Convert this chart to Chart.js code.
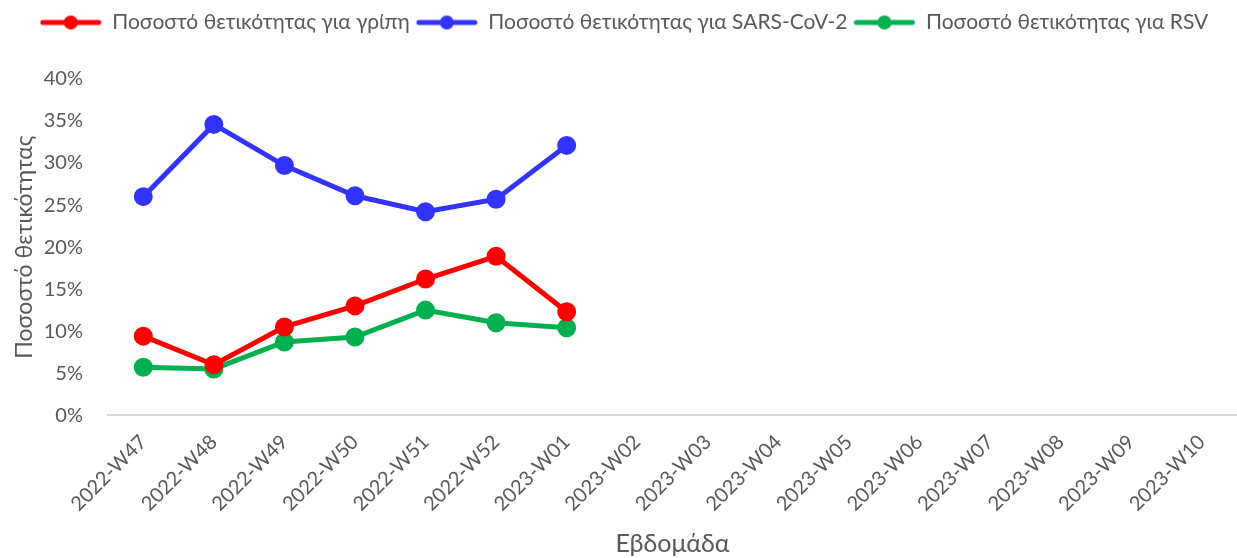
<!DOCTYPE html>
<html>
<head>
<meta charset="utf-8">
<script src="https://cdn.jsdelivr.net/npm/chart.js@4.4.0/dist/chart.umd.min.js"></script>
<style>
  html, body { margin: 0; padding: 0; background: #fff; }
  #wrap { width: 1237px; height: 558px; }
</style>
</head>
<body>
<div id="wrap"><canvas id="positivityChart"></canvas></div>
<script>
// Weeks on the x axis
const weeks = ['2022-W47', '2022-W48', '2022-W49', '2022-W50', '2022-W51', '2022-W52', '2023-W01',
    '2023-W02', '2023-W03', '2023-W04', '2023-W05', '2023-W06', '2023-W07', '2023-W08', '2023-W09', '2023-W10'];

// Positivity values (%), only first 7 weeks have data
const fluValues = [9.4, 6.0, 10.5, 13.0, 16.2, 18.9, 12.3];
const covidValues = [26.0, 34.6, 29.7, 26.1, 24.2, 25.7, 32.1];
const rsvValues = [5.7, 5.5, 8.7, 9.3, 12.5, 11.0, 10.4];

const yTicks = [0, 5, 10, 15, 20, 25, 30, 35, 40];

const fontFamily = 'Lato, "Open Sans", sans-serif';
const textColor = '#595959';

// small line+dot image for legend entries
function legendMarker(color) {
    const c = document.createElement('canvas');
    c.width = 62;
    c.height = 16;
    const g = c.getContext('2d');
    g.strokeStyle = color;
    g.lineWidth = 5;
    g.lineCap = 'round';
    g.beginPath();
    g.moveTo(3, 8);
    g.lineTo(59, 8);
    g.stroke();
    g.fillStyle = color;
    g.beginPath();
    g.arc(31, 8, 7, 0, Math.PI * 2);
    g.fill();
    return c;
}

function series(label, values, color) {
    return {
        label: label,
        data: values,
        borderColor: color,
        backgroundColor: color,
        borderWidth: 5,
        pointRadius: 7,
        pointHoverRadius: 8,
        pointBackgroundColor: color,
        pointBorderColor: color,
        tension: 0,
        fill: false,
        marker: legendMarker(color)
    };
}

// push the plot down below the legend, and keep the axes at fixed widths
// (the rotated week labels otherwise eat into the plot on both sides)
const layoutTweaks = {
    id: 'layoutTweaks',
    beforeInit(chart) {
        const fit = chart.legend.fit;
        chart.legend.fit = function() {
            fit.bind(chart.legend)();
            this.height += 36;
        };
    },
    beforeLayout(chart) {
        const x = chart.scales.x;
        const y = chart.scales.y;
        if (!x.__patched) {
            x.getPadding = function() {
                return { left: 0, right: 0, top: 0, bottom: 0 };
            };
            x.__patched = true;
        }
        if (!y.__patched) {
            const yfit = y.fit;
            y.fit = function() {
                yfit.call(this);
                this.width = 97;
            };
            y.__patched = true;
        }
    }
};

const ctx = document.getElementById('positivityChart').getContext('2d');
new Chart(ctx, {
    type: 'line',
    data: {
        labels: weeks,
        datasets: [
            series('Ποσοστό θετικότητας για γρίπη', fluValues, '#ff0000'),
            series('Ποσοστό θετικότητας για SARS-CoV-2', covidValues, '#3333ff'),
            series('Ποσοστό θετικότητας για RSV', rsvValues, '#00b050')
        ]
    },
    plugins: [layoutTweaks],
    options: {
        responsive: true,
        maintainAspectRatio: false,
        animation: false,
        layout: { autoPadding: false, padding: { left: 11, right: 0, top: 6, bottom: 0 } },
        plugins: {
            legend: {
                position: 'top',
                labels: {
                    usePointStyle: true,
                    pointStyleWidth: 62,
                    boxHeight: 16,
                    padding: 6,
                    color: textColor,
                    font: { family: fontFamily, size: 21 },
                    generateLabels: function(chart) {
                        const items = Chart.defaults.plugins.legend.labels.generateLabels(chart);
                        items.forEach(function(item) {
                            item.pointStyle = chart.data.datasets[item.datasetIndex].marker;
                        });
                        return items;
                    }
                }
            },
            tooltip: { enabled: true }
        },
        scales: {
            x: {
                offset: true,
                grid: { display: false, drawTicks: false },
                border: { display: true, color: '#d9d9d9', width: 2 },
                ticks: {
                    color: textColor,
                    font: { family: fontFamily, size: 20 },
                    minRotation: 45,
                    maxRotation: 45,
                    autoSkip: false,
                    padding: 15
                },
                title: {
                    display: true,
                    text: 'Εβδομάδα',
                    color: textColor,
                    font: { family: fontFamily, size: 25, lineHeight: 1.0 },
                    padding: { top: 0, bottom: 2 }
                }
            },
            y: {
                min: 0,
                max: 40,
                afterBuildTicks: function(axis) {
                    axis.ticks = yTicks.map(v => ({ value: v }));
                },
                grid: { display: false, drawTicks: false },
                border: { display: false },
                ticks: {
                    color: textColor,
                    font: { family: fontFamily, size: 20 },
                    padding: 25,
                    callback: function(v) { return v + '%'; }
                },
                title: {
                    display: true,
                    text: 'Ποσοστό θετικότητας',
                    color: textColor,
                    font: { family: fontFamily, size: 23 },
                    padding: { top: 0, bottom: 2 }
                }
            }
        }
    }
});
</script>
</body>
</html>
